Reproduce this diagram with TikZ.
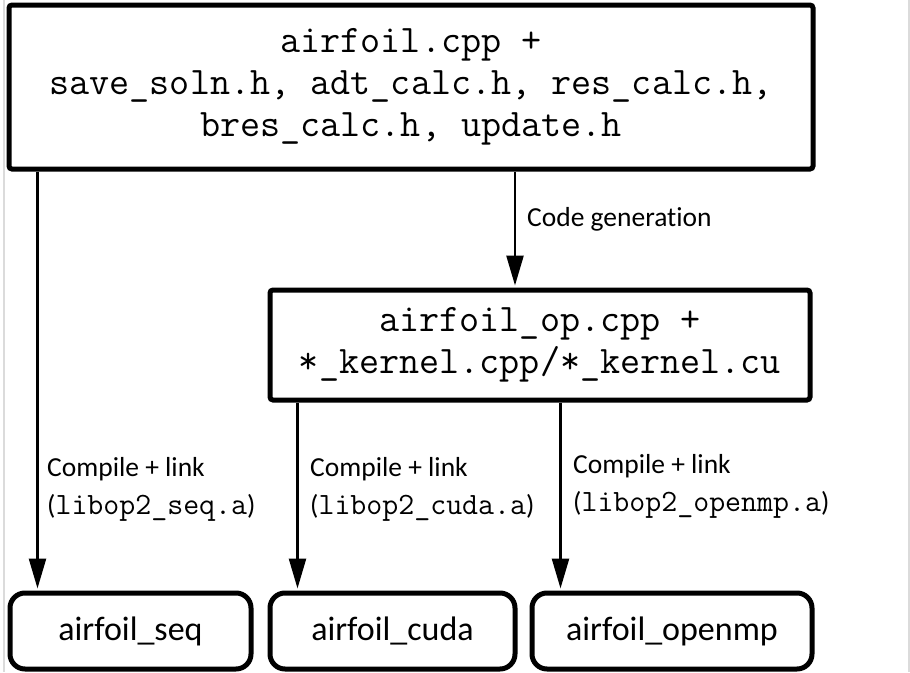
\documentclass[tikz,border=0pt]{standalone}
\usepackage{fontspec}
\setmainfont{Carlito}[Ligatures=NoCommon]
\usetikzlibrary{arrows.meta}

\tikzset{
  srcbox/.style={draw, line width=5pt, rounded corners=3pt, align=center,
    inner sep=0pt, font=\ttfamily\fontsize{39}{42}\selectfont},
  binbox/.style={draw, line width=5pt, rounded corners=15pt, inner sep=0pt,
    minimum height=76pt, font=\fontsize{34}{40}\selectfont},
  flow/.style={line width=2.5pt, -{Triangle[length=30pt,width=17pt]}, shorten >=2pt},
  steplabel/.style={anchor=west, align=left, inner sep=0pt,
    font=\fontsize{27.5}{38}\selectfont}
}
\newcommand{\libname}[1]{({\ttfamily\fontsize{31}{38}\selectfont #1})}

\begin{document}
\begin{tikzpicture}[x=1pt,y=-1pt]

        \useasboundingbox (0,0) rectangle (910,672);
        \draw[black!14, line width=2pt] (4,0) -- (4,672);
        \draw[black!14, line width=2pt] (909,0) -- (909,672);

        \node[srcbox, minimum width=804pt, minimum height=164pt] (top) at (411,87)
          {airfoil.cpp +\\save\_soln.h, adt\_calc.h, res\_calc.h,\\bres\_calc.h, update.h};
        \node[srcbox, minimum width=540pt, minimum height=110pt] (gen) at (540,345)
          {airfoil\_op.cpp +\\*\_kernel.cpp/*\_kernel.cu};

        \begin{scope}[every node/.style={binbox}]
          \node[minimum width=241pt] (seq)    at (130.5,631) {airfoil\_seq};
          \node[minimum width=245pt] (cuda)   at (392.5,631) {airfoil\_cuda};
          \node[minimum width=280pt] (openmp) at (672,631)   {airfoil\_openmp};
        \end{scope}

        \coordinate (g) at ([xshift=-25pt]gen.north);
        \coordinate (s) at ([xshift=30pt]seq.north west);
        \coordinate (c) at ([xshift=30pt]cuda.north west);
        \coordinate (o) at ([xshift=31pt]openmp.north west);

        \draw[flow] (g |- top.south) -- (g);
        \draw[flow] (s |- top.south) -- (s);
        \draw[flow] (c |- gen.south) -- (c);
        \draw[flow] (o |- gen.south) -- (o);

        \node[steplabel] (lgen) at (527,219) {Code generation};
        \node[steplabel] (lseq) at (47,489)
          {Compile + link\\\libname{libop2\_seq.a}};
        \node[steplabel] (lcuda) at (310,489)
          {Compile + link\\\libname{libop2\_cuda.a}};
        \node[steplabel] (lomp) at (573,486)
          {Compile + link\\\libname{libop2\_openmp.a}};

      \end{tikzpicture}
\end{document}
